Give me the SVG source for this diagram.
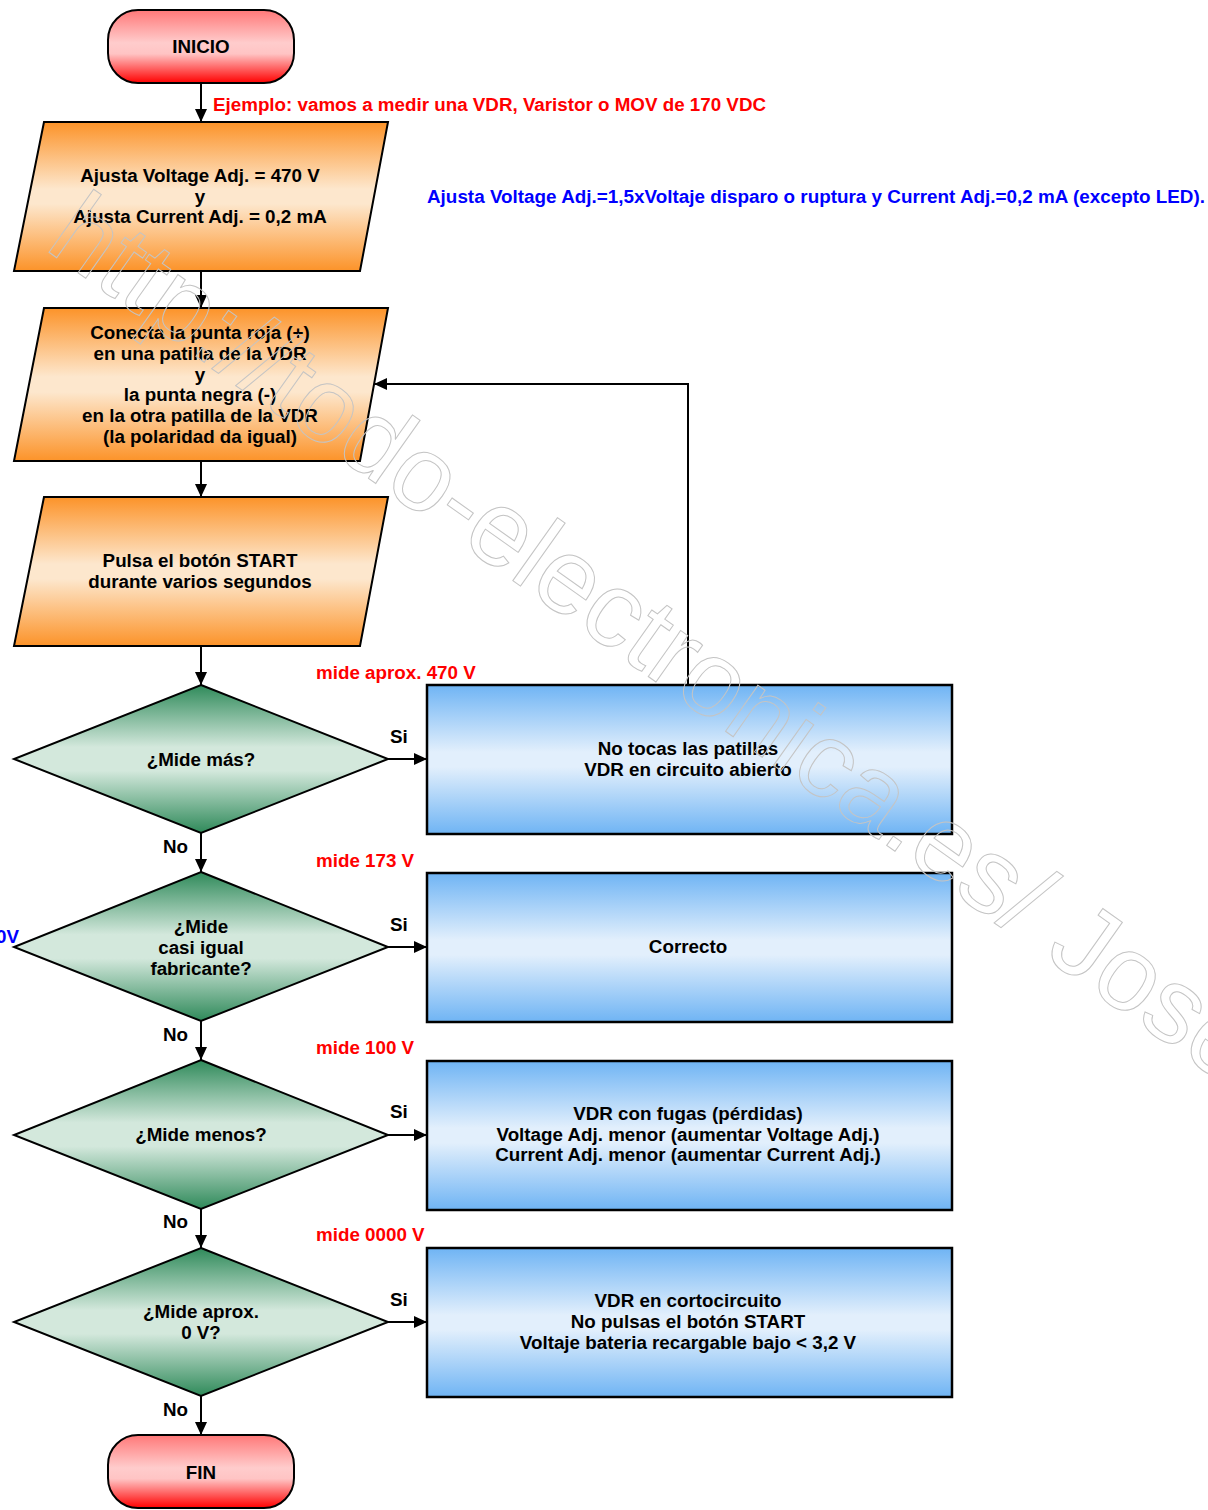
<svg xmlns="http://www.w3.org/2000/svg" width="1208" height="1510" viewBox="0 0 1208 1510">
<defs>
<linearGradient id="gRed" x1="0" y1="0" x2="0" y2="1">
<stop offset="0" stop-color="#ff7878"/><stop offset="0.45" stop-color="#ffcccc"/><stop offset="0.6" stop-color="#ffc4c4"/><stop offset="1" stop-color="#ff0000"/>
</linearGradient>
<linearGradient id="gOrange" x1="0" y1="0" x2="0" y2="1">
<stop offset="0" stop-color="#fc9329"/><stop offset="0.45" stop-color="#fde7cd"/><stop offset="0.55" stop-color="#fde7cd"/><stop offset="1" stop-color="#fc9329"/>
</linearGradient>
<linearGradient id="gGreen" x1="0" y1="0" x2="0" y2="1">
<stop offset="0" stop-color="#2f8a5a"/><stop offset="0.42" stop-color="#d3e8dc"/><stop offset="0.58" stop-color="#d3e8dc"/><stop offset="1" stop-color="#2f8a5a"/>
</linearGradient>
<linearGradient id="gBlue" x1="0" y1="0" x2="0" y2="1">
<stop offset="0" stop-color="#6fb4f4"/><stop offset="0.45" stop-color="#e2effc"/><stop offset="0.55" stop-color="#e2effc"/><stop offset="1" stop-color="#6fb4f4"/>
</linearGradient>
<marker id="arr" markerUnits="userSpaceOnUse" markerWidth="14" markerHeight="12" refX="13" refY="6" orient="auto">
<path d="M0,0 L13,6 L0,12 Z" fill="#000"/>
</marker>
</defs>
<style>
.t{font-family:"Liberation Sans",Arial,sans-serif;font-weight:bold;font-size:18.8px;fill:#000;text-anchor:middle}
.lab{font-family:"Liberation Sans",Arial,sans-serif;font-weight:bold;font-size:18.8px;fill:#000}
.red{font-family:"Liberation Sans",Arial,sans-serif;font-weight:bold;font-size:18.8px;fill:#ff0000}
.blue{font-family:"Liberation Sans",Arial,sans-serif;font-weight:bold;font-size:18.8px;fill:#0000ff}
.term{fill:url(#gRed);stroke:#000;stroke-width:2}
.io{fill:url(#gOrange);stroke:#000;stroke-width:2}
.dec{fill:url(#gGreen);stroke:#000;stroke-width:2}
.proc{fill:url(#gBlue);stroke:#000;stroke-width:2.5}
.conn{fill:none;stroke:#000;stroke-width:2;marker-end:url(#arr)}
.wm{font-family:"Liberation Sans",Arial,sans-serif;font-size:106.5px;fill:none;stroke:#c4c4c4;stroke-width:1}
</style>
<rect width="1208" height="1510" fill="#fff"/>

<g id="connectors">
<path class="conn" d="M201,83 V122"/>
<path class="conn" d="M201,271 V308"/>
<path class="conn" d="M201,461 V497"/>
<path class="conn" d="M201,646 V685"/>
<path class="conn" d="M201,833 V872"/>
<path class="conn" d="M201,1021 V1060"/>
<path class="conn" d="M201,1209 V1248"/>
<path class="conn" d="M201,1396 V1435"/>
<path class="conn" d="M388,759 H427"/>
<path class="conn" d="M388,947 H427"/>
<path class="conn" d="M388,1135 H427"/>
<path class="conn" d="M388,1322 H427"/>
<path class="conn" d="M688,685 V384 H374"/>
</g>

<g id="inicio">
<rect class="term" x="108" y="10" width="186" height="73" rx="30" ry="30"/>
<text class="t" x="201" y="53">INICIO</text>
</g>

<g id="ajusta">
<polygon class="io" points="44,122 388,122 360,271 14,271"/>
<text class="t" x="200" y="182">Ajusta Voltage Adj. = 470 V</text>
<text class="t" x="200" y="203">y</text>
<text class="t" x="200" y="223">Ajusta Current Adj. = 0,2 mA</text>
</g>

<g id="conecta">
<polygon class="io" points="44,308 388,308 360,461 14,461"/>
<text class="t" x="200" y="339">Conecta la punta roja (+)</text>
<text class="t" x="200" y="360">en una patilla de la VDR</text>
<text class="t" x="200" y="381">y</text>
<text class="t" x="200" y="401">la punta negra (-)</text>
<text class="t" x="200" y="422">en la otra patilla de la VDR</text>
<text class="t" x="200" y="443">(la polaridad da igual)</text>
</g>

<g id="pulsa">
<polygon class="io" points="44,497 388,497 360,646 14,646"/>
<text class="t" x="200" y="567">Pulsa el botón START</text>
<text class="t" x="200" y="588">durante varios segundos</text>
</g>

<g id="d1">
<polygon class="dec" points="201,685 388,759 201,833 14,759"/>
<text class="t" x="201" y="766">¿Mide más?</text>
</g>
<g id="d2">
<polygon class="dec" points="201,872 388,947 201,1021 14,947"/>
<text class="t" x="201" y="933">¿Mide</text>
<text class="t" x="201" y="954">casi igual</text>
<text class="t" x="201" y="975">fabricante?</text>
</g>
<g id="d3">
<polygon class="dec" points="201,1060 388,1135 201,1209 14,1135"/>
<text class="t" x="201" y="1141">¿Mide menos?</text>
</g>
<g id="d4">
<polygon class="dec" points="201,1248 388,1322 201,1396 14,1322"/>
<text class="t" x="201" y="1318">¿Mide aprox.</text>
<text class="t" x="201" y="1339">0 V?</text>
</g>

<g id="b1">
<rect class="proc" x="427" y="685" width="525" height="149"/>
<text class="t" x="688" y="755">No tocas las patillas</text>
<text class="t" x="688" y="776">VDR en circuito abierto</text>
</g>
<g id="b2">
<rect class="proc" x="427" y="873" width="525" height="149"/>
<text class="t" x="688" y="953">Correcto</text>
</g>
<g id="b3">
<rect class="proc" x="427" y="1061" width="525" height="149"/>
<text class="t" x="688" y="1120">VDR con fugas (pérdidas)</text>
<text class="t" x="688" y="1141">Voltage Adj. menor (aumentar Voltage Adj.)</text>
<text class="t" x="688" y="1161">Current Adj. menor (aumentar Current Adj.)</text>
</g>
<g id="b4">
<rect class="proc" x="427" y="1248" width="525" height="149"/>
<text class="t" x="688" y="1307">VDR en cortocircuito</text>
<text class="t" x="688" y="1328">No pulsas el botón START</text>
<text class="t" x="688" y="1349">Voltaje bateria recargable bajo &lt; 3,2 V</text>
</g>

<g id="fin">
<rect class="term" x="108" y="1435" width="186" height="73" rx="30" ry="30"/>
<text class="t" x="201" y="1479">FIN</text>
</g>

<g id="labels">
<text class="red" x="213" y="111" textLength="553" lengthAdjust="spacingAndGlyphs">Ejemplo: vamos a medir una VDR, Varistor o MOV de 170 VDC</text>
<text class="blue" x="427" y="203" textLength="778" lengthAdjust="spacingAndGlyphs">Ajusta Voltage Adj.=1,5xVoltaje disparo o ruptura y Current Adj.=0,2 mA (excepto LED).</text>
<text class="red" x="316" y="679">mide aprox. 470 V</text>
<text class="red" x="316" y="867">mide 173 V</text>
<text class="red" x="316" y="1054">mide 100 V</text>
<text class="red" x="316" y="1241">mide 0000 V</text>
<text class="blue" x="19" y="943" text-anchor="end">0V</text>
<text class="lab" x="390" y="743">Si</text>
<text class="lab" x="390" y="931">Si</text>
<text class="lab" x="390" y="1118">Si</text>
<text class="lab" x="390" y="1306">Si</text>
<text class="lab" x="163" y="853">No</text>
<text class="lab" x="163" y="1041">No</text>
<text class="lab" x="163" y="1228">No</text>
<text class="lab" x="163" y="1416">No</text>
</g>

<text class="wm" transform="translate(43,248) rotate(35.3)">http://todo-electronica.es/ Jose</text>
</svg>
